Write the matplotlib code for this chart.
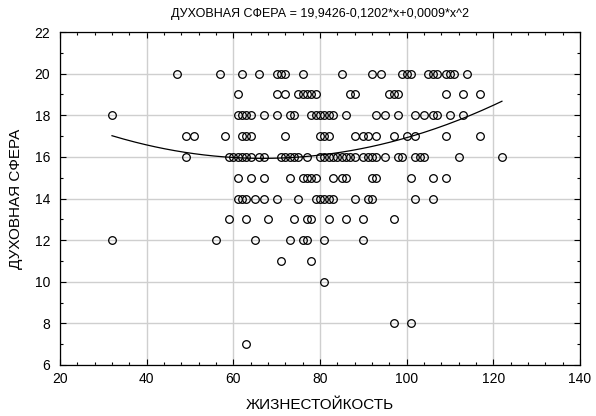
import numpy as np
import matplotlib
matplotlib.use('Agg')
import matplotlib.pyplot as plt
from matplotlib.ticker import MultipleLocator

plt.rcParams['font.family'] = ['Liberation Sans', 'DejaVu Sans']

# Scores grouped by the ДУХОВНАЯ СФЕРА value (y), each list holds ЖИЗНЕСТОЙКОСТЬ values (x)
x_at_20 = [47, 57, 62, 66, 70, 71, 72, 76, 85, 92, 94, 99, 100, 101, 105, 106, 107, 109, 110, 111, 114]
x_at_19 = [61, 70, 72, 75, 76, 77, 78, 79, 87, 88, 96, 97, 98, 109, 113, 117]
x_at_18 = [32, 61, 62, 63, 64, 67, 70, 73, 74, 78, 79, 80, 81, 82, 83, 86, 93, 95, 98,
           102, 104, 106, 107, 110, 113]
x_at_17 = [49, 51, 58, 62, 63, 64, 72, 80, 81, 82, 88, 90, 91, 93, 97, 100, 102, 109, 117]
x_at_16 = [49, 59, 60, 61, 62, 63, 64, 66, 67, 71, 72, 73, 74, 75, 77, 80, 81, 82, 83, 84,
           85, 86, 87, 88, 90, 91, 92, 93, 95, 98, 99, 102, 103, 104, 112, 122]
x_at_15 = [61, 64, 67, 73, 76, 77, 78, 79, 83, 85, 86, 92, 93, 101, 106, 109]
x_at_14 = [61, 62, 63, 65, 67, 70, 75, 79, 80, 81, 82, 83, 88, 91, 92, 102, 106]
x_at_13 = [59, 63, 68, 74, 77, 78, 82, 86, 90, 97]
x_at_12 = [32, 56, 65, 73, 76, 77, 81, 90]
x_at_11 = [71, 78]
x_at_10 = [81]
x_at_8 = [97, 101]
x_at_7 = [63]

groups = {20: x_at_20, 19: x_at_19, 18: x_at_18, 17: x_at_17, 16: x_at_16, 15: x_at_15,
          14: x_at_14, 13: x_at_13, 12: x_at_12, 11: x_at_11, 10: x_at_10, 8: x_at_8, 7: x_at_7}

xs = []
ys = []
for yv, xl in groups.items():
    xs += xl
    ys += [yv] * len(xl)
xs = np.array(xs, dtype=float)
ys = np.array(ys, dtype=float)

# quadratic fit coefficients from the title
b0, b1, b2 = 19.9426, -0.1202, 0.0009

fig = plt.figure(figsize=(5.96, 4.16), dpi=100)
ax = fig.add_axes([0.1007, 0.1226, 0.8723, 0.8004])

ax.plot(xs, ys, 'o', mfc='none', mec='black', ms=5.5, mew=0.9, zorder=3)
xf = np.linspace(xs.min(), xs.max(), 200)
ax.plot(xf, b0 + b1 * xf + b2 * xf ** 2, color='black', lw=0.9, zorder=4)

ax.set_xlim(20, 140)
ax.set_ylim(6, 22)
ax.xaxis.set_major_locator(MultipleLocator(20))
ax.xaxis.set_minor_locator(MultipleLocator(4))
ax.yaxis.set_major_locator(MultipleLocator(2))
ax.yaxis.set_minor_locator(MultipleLocator(1))
ax.tick_params(which='both', direction='in', top=True, right=True, width=0.8, labelsize=10)
ax.tick_params(which='major', length=4)
ax.tick_params(which='minor', length=2.5)
ax.tick_params(axis='y', pad=7)
ax.tick_params(axis='x', pad=5)
ax.grid(True, which='major', color='#cfcfcf', lw=1.0)
ax.set_axisbelow(True)
for s in ax.spines.values():
    s.set_linewidth(0.9)

ax.set_title('ДУХОВНАЯ СФЕРА = 19,9426-0,1202*x+0,0009*x^2', fontsize=9, pad=11)
ax.set_xlabel('ЖИЗНЕСТОЙКОСТЬ', fontsize=11, labelpad=9)
ax.set_ylabel('ДУХОВНАЯ СФЕРА', fontsize=11, labelpad=8)

fig.savefig('out.png', dpi=100)
